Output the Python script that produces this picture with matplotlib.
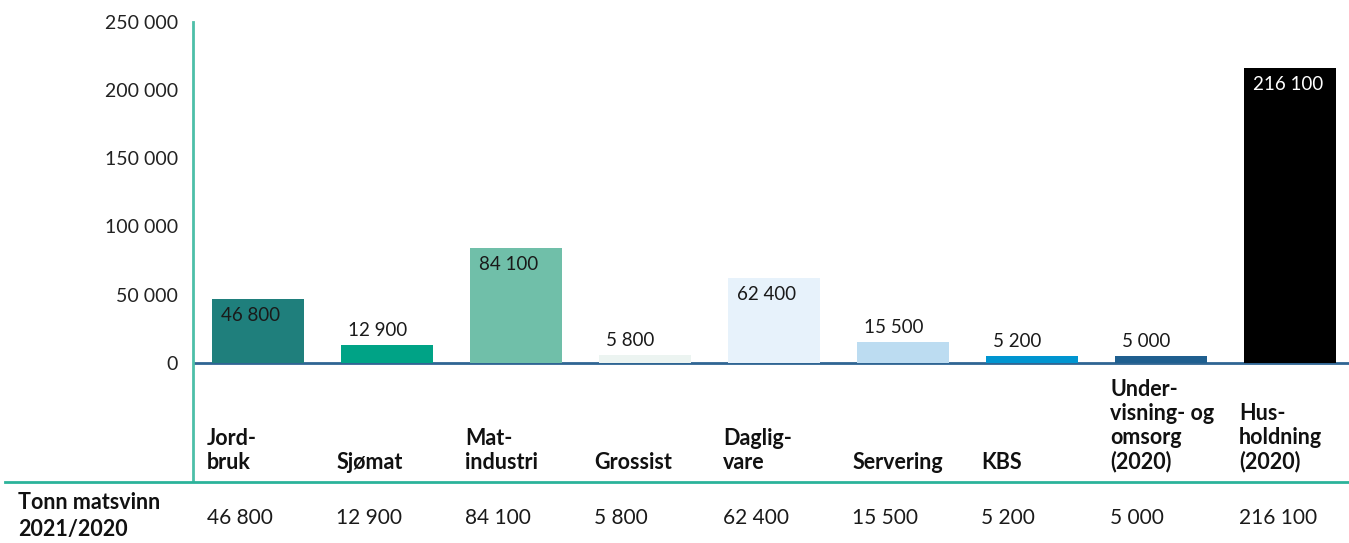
import matplotlib.pyplot as plt
from matplotlib.lines import Line2D

plt.rcParams['font.family'] = ['Lato', 'DejaVu Sans']

categories = ["Jord-\nbruk", "Sjømat", "Mat-\nindustri", "Grossist", "Daglig-\nvare",
              "Servering", "KBS", "Under-\nvisning- og\nomsorg\n(2020)", "Hus-\nholdning\n(2020)"]
values = [46800, 12900, 84100, 5800, 62400, 15500, 5200, 5000, 216100]
value_labels = ["46 800", "12 900", "84 100", "5 800", "62 400", "15 500", "5 200", "5 000", "216 100"]
colors = ["#1f7f7c", "#00a386", "#70bfa9", "#ecf4f1", "#e7f2fb",
          "#bcdcf1", "#0095d0", "#1f5f8f", "#000000"]
inside = [True, False, True, False, True, False, False, False, True]
yticks = [0, 50000, 100000, 150000, 200000, 250000]
ytick_labels = ["0", "50 000", "100 000", "150 000", "200 000", "250 000"]
row_title = "Tonn matsvinn\n2021/2020"

W, H = 1349, 543
fig = plt.figure(figsize=(W / 100, H / 100), dpi=100)

# axes from x=193 px to right edge, y from 22 px (top) to 480 px (bottom)
ax = fig.add_axes([193 / W, 1 - 480 / H, (W - 193) / W, (480 - 22) / H])
ax.set_xlim(-0.504, 8.457)
ax.set_ylim(-86000, 250000)

bw = 0.713
ax.bar(range(len(values)), values, width=bw, color=colors, zorder=2)
ax.axhline(0, color="#2f6593", lw=2, zorder=1)

for s in ["top", "right", "bottom"]:
    ax.spines[s].set_visible(False)
ax.spines["left"].set_color("#4dbfa8")
ax.spines["left"].set_linewidth(2)
ax.set_xticks([])
ax.set_yticks(yticks)
ax.set_yticklabels(ytick_labels, fontsize=14, color="#222222")
ax.tick_params(axis="y", length=0, pad=11)

for i, (v, lab, ins) in enumerate(zip(values, value_labels, inside)):
    left = i - bw / 2
    if ins:
        ax.annotate(lab, (left, v), xytext=(9, -8), textcoords="offset pixels",
                    ha="left", va="top", fontsize=13.5,
                    color="white" if colors[i] == "#000000" else "#1a1a1a", zorder=3)
    else:
        ax.annotate(lab, (left, v), xytext=(7, 6), textcoords="offset pixels",
                    ha="left", va="bottom", fontsize=13.5, color="#1a1a1a", zorder=3)
    # category name under the axis, bottom-aligned
    ax.annotate(categories[i], (left, 0), xycoords="data",
                xytext=(-5, -(468 - 362)), textcoords="offset pixels",
                ha="left", va="baseline", fontsize=15.5, fontweight="bold",
                color="#111111", linespacing=1.18, annotation_clip=False)
    # table row value
    ax.annotate(lab, (left, 0), xytext=(-5, -(517 - 362)), textcoords="offset pixels",
                ha="left", va="center", fontsize=15, color="#1a1a1a",
                annotation_clip=False)

fig.text(18 / W, 1 - 516 / H, row_title, ha="left", va="center", fontsize=15.5,
         fontweight="bold", color="#111111", linespacing=1.3)

fig.add_artist(Line2D([5 / W, 1], [1 - 482 / H, 1 - 482 / H],
                      color="#2bb39a", lw=2, transform=fig.transFigure))

fig.savefig("out.png", dpi=100)
